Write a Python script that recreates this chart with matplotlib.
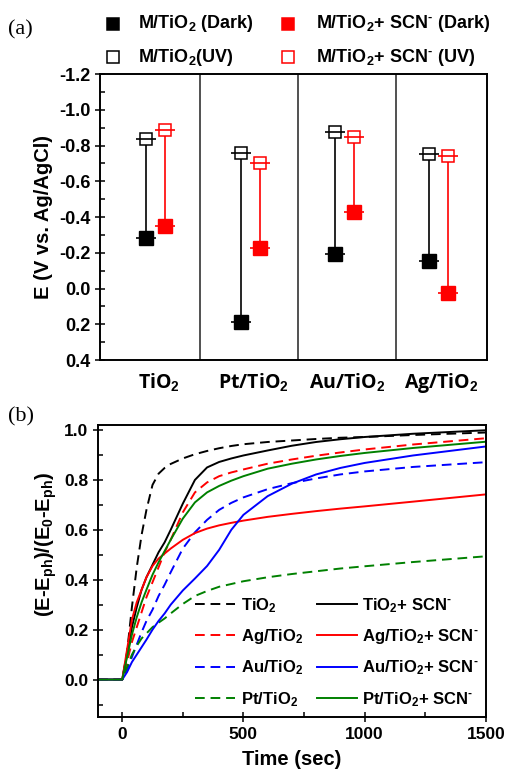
import numpy as np
import matplotlib
matplotlib.use("Agg")
from matplotlib import pyplot as plt
from matplotlib.lines import Line2D
from matplotlib.ticker import MultipleLocator

plt.rcParams['font.family'] = ['Liberation Sans', 'DejaVu Sans']
plt.rcParams['font.weight'] = 'bold'
plt.rcParams['axes.labelweight'] = 'bold'
plt.rcParams['axes.unicode_minus'] = False
plt.rcParams['mathtext.fontset'] = 'custom'
plt.rcParams['mathtext.rm'] = 'Liberation Sans:bold'
plt.rcParams['mathtext.it'] = 'Liberation Sans:bold'
plt.rcParams['mathtext.bf'] = 'Liberation Sans:bold'

HIF = '\u2010'  # small hyphen for the SCN charge

# ---- panel (a): potentials (V vs Ag/AgCl)
categorias = ["TiO$_2$", "Pt/TiO$_2$", "Au/TiO$_2$", "Ag/TiO$_2$"]
e_escuro = [-0.283, 0.188, -0.193, -0.154]
e_uv = [-0.839, -0.761, -0.873, -0.753]
e_scn_escuro = [-0.348, -0.227, -0.428, 0.024]
e_scn_uv = [-0.887, -0.705, -0.845, -0.744]

# ---- panel (b): normalised decay
tempo = [-100, 0, 20, 40, 60, 80, 100, 125, 150, 175, 200, 250, 300, 350,
         400, 450, 500, 600, 700, 800, 900, 1000, 1200, 1500]
tio2 = [0, 0, 0.11, 0.29, 0.45, 0.58, 0.68, 0.78, 0.825, 0.848, 0.864, 0.886,
        0.903, 0.916, 0.927, 0.936, 0.943, 0.952, 0.958, 0.964, 0.969, 0.972,
        0.98, 0.99]
tio2_scn = [0, 0, 0.10, 0.21, 0.29, 0.36, 0.41, 0.46, 0.51, 0.55, 0.60, 0.705,
            0.80, 0.85, 0.872, 0.886, 0.898, 0.918, 0.937, 0.952, 0.963, 0.972,
            0.985, 0.999]
ag = [0, 0, 0.07, 0.15, 0.21, 0.27, 0.33, 0.39, 0.45, 0.51, 0.56, 0.67, 0.75,
      0.79, 0.815, 0.83, 0.842, 0.865, 0.882, 0.897, 0.91, 0.922, 0.942, 0.967]
ag_scn = [0, 0, 0.12, 0.24, 0.31, 0.36, 0.41, 0.455, 0.485, 0.505, 0.525, 0.56,
          0.587, 0.605, 0.618, 0.628, 0.637, 0.652, 0.664, 0.675, 0.685, 0.694,
          0.713, 0.742]
au = [0, 0, 0.04, 0.09, 0.14, 0.19, 0.235, 0.28, 0.335, 0.38, 0.43, 0.525,
      0.59, 0.64, 0.68, 0.708, 0.73, 0.763, 0.787, 0.806, 0.822, 0.834, 0.852,
      0.871]
au_scn = [0, 0, 0.03, 0.07, 0.10, 0.13, 0.16, 0.20, 0.235, 0.265, 0.30, 0.357,
          0.405, 0.455, 0.52, 0.60, 0.66, 0.735, 0.785, 0.822, 0.848, 0.868,
          0.898, 0.934]
pt = [0, 0, 0.05, 0.10, 0.135, 0.165, 0.185, 0.21, 0.228, 0.245, 0.265, 0.303,
      0.335, 0.355, 0.372, 0.383, 0.394, 0.41, 0.423, 0.434, 0.445, 0.454,
      0.471, 0.494]
pt_scn = [0, 0, 0.09, 0.18, 0.25, 0.31, 0.36, 0.42, 0.47, 0.515, 0.56, 0.645,
          0.71, 0.75, 0.776, 0.797, 0.815, 0.845, 0.865, 0.882, 0.896, 0.908,
          0.928, 0.953]

verde = '#008000'

fig = plt.figure(figsize=(5.05, 7.76), dpi=100)

# ======================= (a)
ax1 = fig.add_axes([0.198, 0.536, 0.766, 0.3686])
x_preto = np.array([0.45, 1.42, 2.38, 3.34])
x_verm = x_preto + 0.195
for xs, d, u, cor in [(x_preto, e_escuro, e_uv, 'black'),
                      (x_verm, e_scn_escuro, e_scn_uv, 'red')]:
    for x0, y0, y1 in zip(xs, d, u):
        ax1.plot([x0, x0], [y0, y1], color=cor, lw=1.2, zorder=2)
    ax1.plot(xs, u, 's', ms=8, mfc='white', mec=cor, mew=1.1, ls='none', zorder=3)
    ax1.plot(xs, d, 's', ms=9.5, color=cor, ls='none', zorder=3)
    ax1.plot(xs, u, '_', ms=15, mew=1.2, color=cor, ls='none', zorder=4)
    ax1.plot(xs, d, '_', ms=15, mew=1.2, color=cor, ls='none', zorder=4)

for xs in [1, 2, 3]:
    ax1.axvline(xs, color='#333333', lw=1.2)
ax1.set_xlim(-0.02, 3.93)
ax1.set_ylim(0.4, -1.2)
ax1.yaxis.set_minor_locator(MultipleLocator(0.1))
ticks_a = np.round(np.arange(-1.2, 0.41, 0.2), 1)
ax1.set_yticks(ticks_a)
ax1.set_yticklabels(['%.1f' % abs(v) if abs(v) < 1e-9 else '%.1f' % v for v in ticks_a],
                    fontweight='bold')
ax1.set_xticks((x_preto + x_verm) / 2 + 0.03)
ax1.set_xticklabels(categorias, fontsize=14, family=['Open Sans', 'DejaVu Sans'],
                    fontweight='bold')
ax1.tick_params(axis='x', length=0, pad=8)
ax1.tick_params(axis='y', which='major', direction='inout', length=7, width=1.1,
                labelsize=13)
ax1.tick_params(axis='y', which='minor', direction='in', length=3.5, width=1.1)
for s in ax1.spines.values():
    s.set_linewidth(1.4)
ax1.set_ylabel('E (V vs. Ag/AgCl)', fontsize=14.5, fontweight='bold', labelpad=4)

# legend above (a)
linhas_leg = [
    (113, 24, 'black', 'black', 'M/TiO$_2$ (Dark)', 138),
    (288, 24, 'red', 'red', 'M/TiO$_2$+ SCN$^{' + HIF + '}$ (Dark)', 316),
    (113, 57, 'white', 'black', 'M/TiO$_2$(UV)', 138),
    (288, 57, 'white', 'red', 'M/TiO$_2$+ SCN$^{' + HIF + '}$ (UV)', 316),
]
for mx, my, fc, ec, txt, tx in linhas_leg:
    fig.add_artist(Line2D([mx / 505], [1 - my / 776], marker='s', ms=9,
                          mfc=fc, mec=ec, mew=1.1, ls='none',
                          transform=fig.transFigure))
    fig.text(tx / 505, 1 - my / 776, txt, fontsize=13, va='center', ha='left',
             fontweight='bold')

fig.text(8 / 505, 1 - 30 / 776, '(a)', fontsize=16, va='center',
         family=['Liberation Serif', 'DejaVu Serif'], weight='normal')
fig.text(8 / 505, 1 - 417 / 776, '(b)', fontsize=16, va='center',
         family=['Liberation Serif', 'DejaVu Serif'], weight='normal')

# ======================= (b)
ax2 = fig.add_axes([0.194, 0.076, 0.768, 0.3763])
tr = dict(lw=1.4)
trac = dict(lw=1.4, dashes=(5, 3))
scn = '+ SCN$^{' + HIF + '}$'
ax2.plot(tempo, tio2, color='black', label='TiO$_2$', **trac)
ax2.plot(tempo, ag, color='red', label='Ag/TiO$_2$', **trac)
ax2.plot(tempo, au, color='blue', label='Au/TiO$_2$', **trac)
ax2.plot(tempo, pt, color=verde, label='Pt/TiO$_2$', **trac)
ax2.plot(tempo, tio2_scn, color='black', label='TiO$_2$' + scn, **tr)
ax2.plot(tempo, ag_scn, color='red', label='Ag/TiO$_2$' + scn, **tr)
ax2.plot(tempo, au_scn, color='blue', label='Au/TiO$_2$' + scn, **tr)
ax2.plot(tempo, pt_scn, color=verde, label='Pt/TiO$_2$' + scn, **tr)

ax2.set_xlim(-100, 1500)
ax2.set_ylim(-0.15, 1.02)
ax2.xaxis.set_major_locator(MultipleLocator(500))
ax2.xaxis.set_minor_locator(MultipleLocator(250))
ax2.yaxis.set_major_locator(MultipleLocator(0.2))
ax2.yaxis.set_minor_locator(MultipleLocator(0.1))
ax2.tick_params(which='major', direction='inout', length=7, width=1.1, labelsize=12.5)
ax2.tick_params(which='minor', direction='in', length=3.5, width=1.1)
plt.setp(ax2.get_xticklabels() + ax2.get_yticklabels(), fontweight='bold')
for s in ax2.spines.values():
    s.set_linewidth(1.4)
ax2.set_xlabel('Time (sec)', fontsize=14.5, fontweight='bold', labelpad=6)
ax2.set_ylabel('(E-E$_{ph}$)/(E$_0$-E$_{ph}$)', fontsize=14.5, fontweight='bold')
ax2.yaxis.set_label_coords(-0.10, 0.59)

ax2.legend(ncol=2, loc='lower left', bbox_to_anchor=(0.228, 0.0), frameon=False,
           fontsize=12, handlelength=2.4, handletextpad=0.35, columnspacing=0.8,
           labelspacing=0.75, borderpad=0)

fig.savefig('out.png', dpi=100)
